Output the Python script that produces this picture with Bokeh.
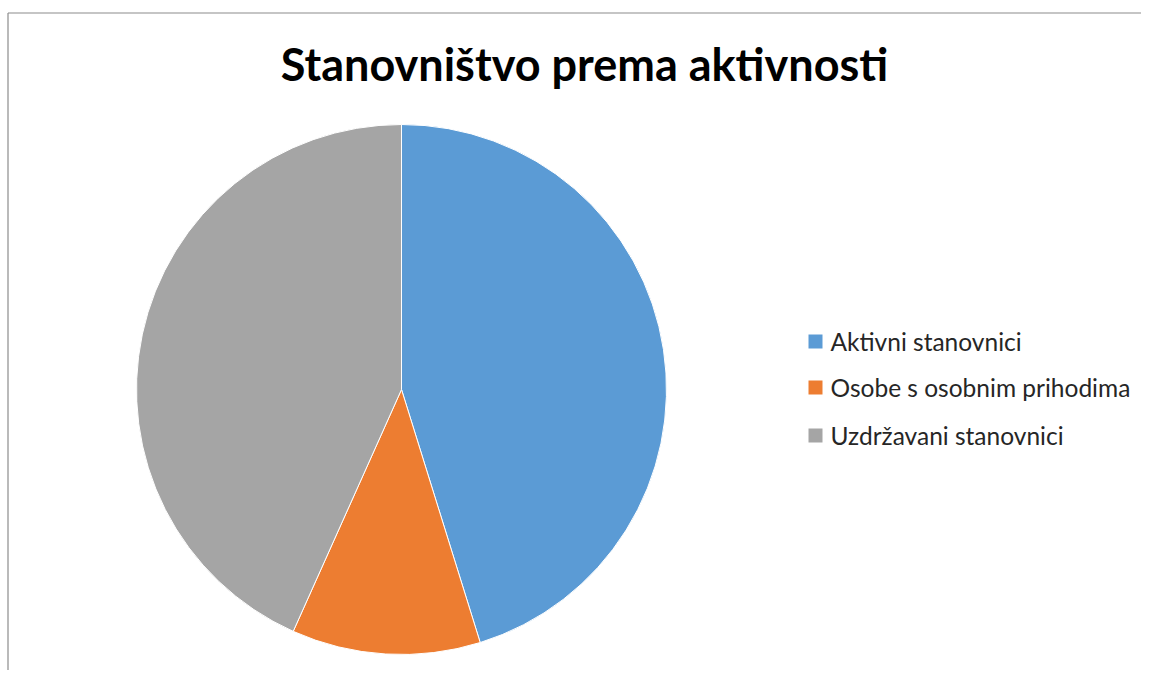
import math
from bokeh.plotting import figure
from bokeh.models import Range1d, ColumnDataSource
from bokeh.core.properties import value
from bokeh.embed import file_html
from bokeh.resources import INLINE

categories = ["Aktivni stanovnici", "Osobe s osobnim prihodima", "Uzdržavani stanovnici"]
shares = [45.2, 11.5, 43.3]
colors = ["#5B9BD5", "#ED7D31", "#A5A5A5"]
title_text = "Stanovništvo prema aktivnosti"

W, H = 1141, 670
p = figure(width=W, height=H, output_backend="svg", toolbar_location=None,
           x_range=Range1d(0, W), y_range=Range1d(0, H), min_border=0)
p.axis.visible = False
p.grid.visible = False
p.outline_line_color = None
p.background_fill_color = "white"
p.border_fill_color = "white"

# frame lines (top and left visible)
p.line([7.5, 7.5], [0, 657.5], line_color="#8c8c8c", line_width=1.2)
p.line([7.5, W], [657.5, 657.5], line_color="#8c8c8c", line_width=1.2)

# pie
total = sum(shares)
starts, ends = [], []
acc = 0.0
for s in shares:
    a0 = math.pi / 2 - 2 * math.pi * acc / total
    acc += s
    a1 = math.pi / 2 - 2 * math.pi * acc / total
    starts.append(a0)
    ends.append(a1)
src = ColumnDataSource(dict(start=starts, end=ends, color=colors))
p.wedge(x=401, y=281, radius=265, start_angle="start", end_angle="end",
        direction="clock", fill_color="color", line_color="white", line_width=1, source=src)

# title
p.text(x=[584], y=[607], text=[title_text], text_font=value("Lato"), text_font_style="bold",
       text_font_size="45px", text_align="center", text_baseline="middle", text_color="#000000")

# legend
ly = [329, 283, 235]
p.rect(x=[815] * 3, y=ly, width=14, height=14, fill_color=colors, line_color=None)
p.text(x=[830] * 3, y=ly, text=categories, text_font=value("Lato"), text_font_size="24.5px",
       text_align="left", text_baseline="middle", text_color="#262626")

open("out.html", "w").write(file_html(p, INLINE))
